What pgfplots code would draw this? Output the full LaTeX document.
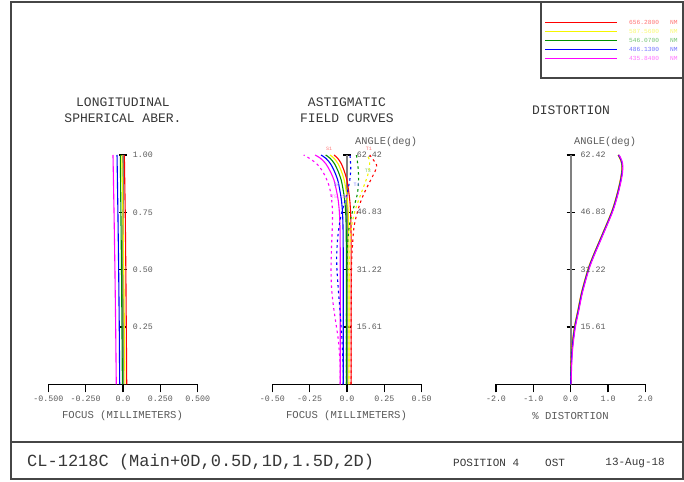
\documentclass[border=0pt]{standalone}
\usepackage{pgfplots}
\pgfplotsset{compat=1.18}
\usepackage{fontspec}
\setmainfont{Liberation Mono}
\definecolor{cR}{RGB}{255,0,0}
\definecolor{cY}{RGB}{245,245,0}
\definecolor{cG}{RGB}{0,145,0}
\definecolor{cB}{RGB}{0,0,255}
\definecolor{cM}{RGB}{255,0,255}
\definecolor{txt}{RGB}{90,90,90}
\definecolor{ttl}{RGB}{55,55,55}
\definecolor{axg}{RGB}{128,128,128}
\definecolor{frm}{RGB}{70,70,70}
\newcommand{\fs}[1]{\fontsize{#1}{#1}\selectfont}
\pgfplotsset{
  aber/.style={
    scale only axis, width=149.4pt, height=229.3pt,
    axis x line*=bottom, axis y line*=center,
    enlargelimits=false, clip=false,
    hide obscured x ticks=false, hide obscured y ticks=false,
    x axis line style={black, line width=0.9pt},
    y axis line style={axg, line width=2.2pt},
    xtick align=outside, ytick align=center,
    major tick length=8pt,
    tick style={black, line width=1.2pt},
    xticklabel style={font=\fs{8.3}, text=txt},
    yticklabels={},
    every axis plot/.append style={line width=1.1pt, no markers},
  },
  dsh/.style={dash pattern=on 2.5pt off 3.2pt},
}
\begin{document}
\begin{tikzpicture}[x=1pt,y=1pt]
\path[use as bounding box] (0,0) rectangle (684,481);
% frame and boxes
\draw[frm, line width=1.3pt] (11,2) rectangle (683,479);
\draw[frm, line width=1.1pt] (11,39) -- (683,39);
\draw[frm, line width=1.1pt] (541,479) -- (541,403) -- (683,403);
% legend
\foreach \yy/\cc/\tt in {458.3/cR/656.2800, 449.3/cY/587.5600, 440.3/cG/546.0700, 431.3/cB/486.1300, 422.3/cM/435.8400}{
  \draw[\cc, line width=1pt] (545,\yy) -- (617,\yy);
  \node[anchor=west, inner sep=0pt, text=\cc!55, font=\fs{6.2}] at (629,\yy) {\tt};
  \node[anchor=west, inner sep=0pt, text=\cc!55, font=\fs{6.2}] at (670,\yy) {NM};
}
% titles
\node[text=ttl, font=\fs{13}] at (123,379) {LONGITUDINAL};
\node[text=ttl, font=\fs{13}] at (123,363) {SPHERICAL ABER.};
\node[text=ttl, font=\fs{13}] at (347,379) {ASTIGMATIC};
\node[text=ttl, font=\fs{13}] at (347,363) {FIELD CURVES};
\node[text=ttl, font=\fs{13}] at (571,371) {DISTORTION};
\node[anchor=west, inner sep=0pt, text=txt, font=\fs{10.3}] at (355,339.3) {ANGLE(deg)};
\node[anchor=west, inner sep=0pt, text=txt, font=\fs{10.3}] at (574,339.3) {ANGLE(deg)};
\node[text=txt, font=\fs{10.6}] at (122.5,65) {FOCUS (MILLIMETERS)};
\node[text=txt, font=\fs{10.6}] at (346.5,65) {FOCUS (MILLIMETERS)};
\node[text=txt, font=\fs{10.6}] at (570.5,65) {\% DISTORTION};
% footer
\node[anchor=west, inner sep=0pt, text=ttl, font=\fs{17}] at (27,19) {CL-1218C (Main+0D,0.5D,1D,1.5D,2D)};
\node[anchor=west, inner sep=0pt, text=ttl, font=\fs{11}] at (453,18) {POSITION 4};
\node[anchor=west, inner sep=0pt, text=ttl, font=\fs{11}] at (545,18) {OST};
\node[anchor=east, inner sep=0pt, text=ttl, font=\fs{11}] at (665,18) {13-Aug-18};

% ---------------- Longitudinal spherical aberration
\begin{axis}[aber, at={(48.3pt,96.7pt)}, anchor=south west,
  xmin=-0.5, xmax=0.5, ymin=0, ymax=1,
  xtick={-0.5,-0.25,0,0.25,0.5}, xticklabels={-0.500,-0.250,0.0,0.250,0.500},
  ytick={0.25,0.5,0.75,1}]
\addplot[cR] coordinates {(0.025,0) (0.022,0.25) (0.019,0.5) (0.015,0.75) (0.009,1)};
\addplot[cY] coordinates {(0.013,0) (0.009,0.25) (0.005,0.5) (-0.001,0.75) (-0.008,1)};
\addplot[cG] coordinates {(-0.004,0) (-0.007,0.25) (-0.010,0.5) (-0.014,0.75) (-0.018,1)};
\addplot[cB] coordinates {(-0.022,0) (-0.025,0.25) (-0.029,0.5) (-0.034,0.75) (-0.040,1)};
\addplot[cM] coordinates {(-0.045,0) (-0.049,0.25) (-0.054,0.5) (-0.060,0.75) (-0.067,1)};
\foreach \v/\l in {0.25/0.25,0.5/0.50,0.75/0.75,1/1.00}{
  \edef\tmp{\noexpand\node[anchor=west, inner sep=0pt, text=txt, font=\noexpand\fs{8.3}] at (axis cs:0,\v) [xshift=9.7pt] {\l};}\tmp
}
\end{axis}

% ---------------- Astigmatic field curves
\begin{axis}[aber, at={(272.3pt,96.7pt)}, anchor=south west,
  xmin=-0.5, xmax=0.5, ymin=0, ymax=62.42,
  xtick={-0.5,-0.25,0,0.25,0.5}, xticklabels={-0.50,-0.25,0.0,0.25,0.50},
  ytick={15.61,31.22,46.83,62.42}]
% sagittal (solid)
\addplot[cR, smooth] coordinates {(0.028,0) (0.028,31.2) (0.0275,38) (0.0266,43) (0.024,46.8) (0.0188,50) (0.0096,53) (-0.0008,55.6) (-0.018,58) (-0.0376,60) (-0.0617,61.5) (-0.087,62.42)};
\addplot[cY, smooth] coordinates {(0.013,0) (0.013,31.2) (0.0125,38) (0.0115,43) (0.0086,46.8) (0.0028,50) (-0.0073,53) (-0.0188,55.6) (-0.0378,58) (-0.0594,60) (-0.0861,61.5) (-0.114,62.42)};
\addplot[cG, smooth] coordinates {(-0.004,0) (-0.004,31.2) (-0.0046,38) (-0.0057,43) (-0.0089,46.8) (-0.0151,50) (-0.0262,53) (-0.0388,55.6) (-0.0596,58) (-0.0832,60) (-0.1124,61.5) (-0.143,62.42)};
\addplot[cB, smooth] coordinates {(-0.025,0) (-0.025,31.2) (-0.0256,38) (-0.0268,43) (-0.0302,46.8) (-0.0369,50) (-0.0488,53) (-0.0623,55.6) (-0.0846,58) (-0.1099,60) (-0.1412,61.5) (-0.174,62.42)};
\addplot[cM, smooth] coordinates {(-0.045,0) (-0.045,31.2) (-0.0457,38) (-0.047,43) (-0.0509,46.8) (-0.0585,50) (-0.072,53) (-0.0873,55.6) (-0.1126,58) (-0.1413,60) (-0.1768,61.5) (-0.214,62.42)};
% tangential (dashed)
\addplot[cR, dsh, smooth] coordinates {(0.027,0) (0.028,20) (0.03,31.2) (0.037,38) (0.049,43.4) (0.08,48.35) (0.109,51.5) (0.136,53.8) (0.165,56.1) (0.192,58.4) (0.198,59.7) (0.176,61.1) (0.152,62.42)};
\addplot[cY, dsh, smooth] coordinates {(0.013,0) (0.014,20) (0.016,31.2) (0.021,38) (0.031,43) (0.052,47) (0.082,50.6) (0.116,54.3) (0.142,57.4) (0.152,60.6) (0.135,62.42)};
\addplot[cG, dsh, smooth] coordinates {(-0.004,0) (-0.003,20) (-0.001,31.2) (0.004,38) (0.015,43) (0.035,46.8) (0.054,49.4) (0.07,52) (0.077,55) (0.076,58) (0.07,60.5) (0.063,62.42)};
\addplot[cB, dsh, smooth] coordinates {(-0.025,0) (-0.025,4) (-0.035,13) (-0.047,20) (-0.058,25.7) (-0.067,31.1) (-0.069,35) (-0.062,40) (-0.045,45) (-0.02,49) (0.005,52.8) (0.02,56) (0.025,59) (0.02,62.42)};
\addplot[cM, dsh, smooth] coordinates {(-0.045,0) (-0.047,6) (-0.058,12) (-0.072,16) (-0.09,21) (-0.103,26) (-0.107,31) (-0.104,37) (-0.099,42) (-0.097,47) (-0.105,51) (-0.12,54) (-0.15,57) (-0.19,59.5) (-0.24,61.2) (-0.29,62.42)};
\foreach \v/\l in {15.61/15.61,31.22/31.22,46.83/46.83,62.42/62.42}{
  \edef\tmp{\noexpand\node[anchor=west, inner sep=0pt, text=txt, font=\noexpand\fs{8.3}] at (axis cs:0,\v) [xshift=9.7pt] {\l};}\tmp
}
\node[text=cR!55, font=\fs{5}, inner sep=0pt] at (axis cs:-0.12,64.1) {S1};
\node[text=cR!55, font=\fs{5}, inner sep=0pt] at (axis cs:0.147,64.1) {T1};
\node[text=cG!55, font=\fs{5}, inner sep=0pt] at (axis cs:0.14,58.0) {T3};
\node[text=cB!55, font=\fs{5}, inner sep=0pt] at (axis cs:0.065,54.4) {T4};
\node[text=cB!55, font=\fs{5}, inner sep=0pt] at (axis cs:-0.067,54.3) {S4};
\node[text=cM!55, font=\fs{5}, inner sep=0pt] at (axis cs:-0.087,51.1) {T5};
\node[text=cM!55, font=\fs{5}, inner sep=0pt] at (axis cs:-0.013,51.1) {S5};
\end{axis}

% ---------------- Distortion
\begin{axis}[aber, at={(496pt,96.7pt)}, anchor=south west,
  xmin=-2, xmax=2, ymin=0, ymax=62.42,
  xtick={-2,-1,0,1,2}, xticklabels={-2.0,-1.0,0.0,1.0,2.0},
  ytick={15.61,31.22,46.83,62.42}]
\addplot[cR, smooth] coordinates {(0,0) (0.005,5) (0.03,10) (0.1,15.6) (0.19,20) (0.29,25) (0.46,31.2) (0.60,35) (0.81,40) (1.09,46.8) (1.22,51) (1.31,54.7) (1.36,57.5) (1.37,59.5) (1.34,61) (1.27,62.42)};
\addplot[cY, smooth] coordinates {(0,0) (0.007,5) (0.035,10) (0.105,15.6) (0.195,20) (0.295,25) (0.465,31.2) (0.605,35) (0.815,40) (1.095,46.8) (1.225,51) (1.315,54.7) (1.365,57.5) (1.375,59.5) (1.345,61) (1.275,62.42)};
\addplot[cG, smooth] coordinates {(0,0) (0.01,5) (0.04,10) (0.11,15.6) (0.2,20) (0.3,25) (0.47,31.2) (0.61,35) (0.82,40) (1.1,46.8) (1.23,51) (1.32,54.7) (1.37,57.5) (1.38,59.5) (1.35,61) (1.28,62.42)};
\addplot[cB, smooth] coordinates {(0,0) (0.015,5) (0.045,10) (0.115,15.6) (0.205,20) (0.305,25) (0.475,31.2) (0.615,35) (0.825,40) (1.105,46.8) (1.235,51) (1.325,54.7) (1.375,57.5) (1.385,59.5) (1.355,61) (1.285,62.42)};
\addplot[cM, smooth] coordinates {(0.01,0) (0.025,5) (0.055,10) (0.125,15.6) (0.215,20) (0.315,25) (0.485,31.2) (0.625,35) (0.835,40) (1.115,46.8) (1.245,51) (1.335,54.7) (1.385,57.5) (1.395,59.5) (1.365,61) (1.295,62.42)};
\foreach \v/\l in {15.61/15.61,31.22/31.22,46.83/46.83,62.42/62.42}{
  \edef\tmp{\noexpand\node[anchor=west, inner sep=0pt, text=txt, font=\noexpand\fs{8.3}] at (axis cs:0,\v) [xshift=9.7pt] {\l};}\tmp
}
\end{axis}
\end{tikzpicture}
\end{document}
